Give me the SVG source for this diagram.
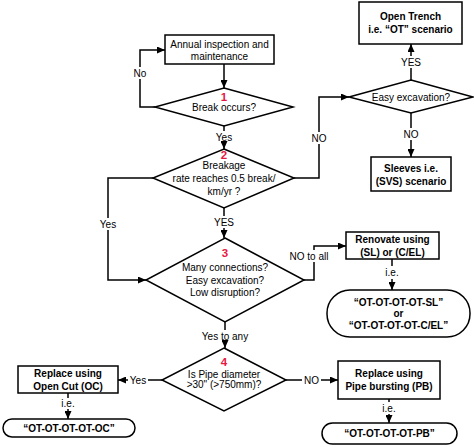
<svg xmlns="http://www.w3.org/2000/svg" width="474" height="447" viewBox="0 0 474 447">
<defs>
<marker id="arr" markerUnits="userSpaceOnUse" markerWidth="8" markerHeight="7" refX="8" refY="3.5" orient="auto">
<path d="M0,0 L8,3.5 L0,7 z" fill="#000"/>
</marker>
<style>
text{font-family:"Liberation Sans",Arial,sans-serif;font-size:10px;fill:#000;text-anchor:middle}
.b{font-weight:bold}
.n{font-weight:bold;font-size:11.5px;fill:#e8173f}
.shape{fill:#fff;stroke:#000;stroke-width:1.5}
.c path{fill:none;stroke:#000;stroke-width:1.5}
</style>
</defs>
<rect width="474" height="447" fill="#fff"/>
<g class="c" id="connectors">
<path d="M224,64 V88" marker-end="url(#arr)"/>
<path d="M155,107 H140 V79"/>
<path d="M140,67 V50 H165" marker-end="url(#arr)"/>
<path d="M224,126 V131"/>
<path d="M224,143 V149" marker-end="url(#arr)"/>
<path d="M294,178 H319 V144"/>
<path d="M319,132 V97 H349" marker-end="url(#arr)"/>
<path d="M411,80 V68"/>
<path d="M411,56 V44" marker-end="url(#arr)"/>
<path d="M411,113 V128"/>
<path d="M411,140 V157" marker-end="url(#arr)"/>
<path d="M153,178 H108 V218"/>
<path d="M108,230 V280 H146" marker-end="url(#arr)"/>
<path d="M224,208 V216"/>
<path d="M224,228 V238" marker-end="url(#arr)"/>
<path d="M304,280 H314 V262"/>
<path d="M314,250 V246 H346" marker-end="url(#arr)"/>
<path d="M392,259 V266"/>
<path d="M392,279 V290" marker-end="url(#arr)"/>
<path d="M225,322 V330"/>
<path d="M225,342 V348" marker-end="url(#arr)"/>
<path d="M162,380 H148"/>
<path d="M128,380 H118" marker-end="url(#arr)"/>
<path d="M286,380 H302"/>
<path d="M321,380 H338" marker-end="url(#arr)"/>
<path d="M68,393 V398"/>
<path d="M68,409 V419" marker-end="url(#arr)"/>
<path d="M389,399 V402"/>
<path d="M389,414 V423" marker-end="url(#arr)"/>
</g>
<g id="labels">
<text x="140" y="76.5">No</text>
<text x="224" y="140.5">Yes</text>
<text x="319" y="141.5">NO</text>
<text x="411" y="65.5">YES</text>
<text x="411" y="137.5">NO</text>
<text x="108" y="227.5">Yes</text>
<text x="224" y="225.5">YES</text>
<text x="309" y="259.5">NO to all</text>
<text x="392" y="275.5">i.e.</text>
<text x="225" y="339.5">Yes to any</text>
<text x="138" y="383.5">Yes</text>
<text x="311.5" y="383.5">NO</text>
<text x="68" y="406.5">i.e.</text>
<text x="389" y="411.5">i.e.</text>
</g>
<g id="annual">
<rect class="shape" x="165" y="35" width="109" height="29"/>
<text x="219.5" y="48">Annual inspection and</text>
<text x="219.5" y="59.5">maintenance</text>
</g>
<g id="break">
<polygon class="shape" points="224,88 293,107 224,126 155,107"/>
<text class="n" x="224" y="101">1</text>
<text x="224" y="111">Break occurs?</text>
</g>
<g id="rate">
<polygon class="shape" points="224,149 294,178 224,208 153,178"/>
<text class="n" x="224" y="159">2</text>
<text x="224" y="168.5">Breakage</text>
<text x="224" y="181.5">rate reaches 0.5 break/</text>
<text x="224" y="195">km/yr ?</text>
</g>
<g id="easy">
<polygon class="shape" points="411,80 473,97 411,113 349,97"/>
<text x="411" y="100.5">Easy excavation?</text>
</g>
<g id="opentrench">
<rect class="shape" x="359" y="2" width="103" height="42"/>
<text class="b" x="410.5" y="19.5">Open Trench</text>
<text class="b" x="410.5" y="32.5">i.e. “OT” scenario</text>
</g>
<g id="sleeves">
<rect class="shape" x="371" y="157" width="80" height="34"/>
<text class="b" x="411" y="171.5">Sleeves i.e.</text>
<text class="b" x="411" y="184.5">(SVS) scenario</text>
</g>
<g id="many">
<polygon class="shape" points="225,238 304,280 225,322 146,280"/>
<text class="n" x="225" y="257">3</text>
<text x="225" y="271">Many connections?</text>
<text x="225" y="283.5">Easy excavation?</text>
<text x="225" y="296">Low disruption?</text>
</g>
<g id="renovate">
<rect class="shape" x="346" y="232" width="93" height="27"/>
<text class="b" x="392.5" y="242.5">Renovate using</text>
<text class="b" x="392.5" y="255.5">(SL) or (C/EL)</text>
</g>
<g id="sl">
<rect class="shape" x="327" y="290" width="143" height="47" rx="23" ry="23"/>
<text class="b" x="398.5" y="305.5">“OT-OT-OT-OT-SL”</text>
<text class="b" x="398.5" y="317">or</text>
<text class="b" x="398.5" y="328.5">“OT-OT-OT-OT-C/EL”</text>
</g>
<g id="diameter">
<polygon class="shape" points="224,348 286,380 224,411 162,380"/>
<text class="n" x="224" y="366">4</text>
<text x="224" y="377.5">Is Pipe diameter</text>
<text x="224" y="388">&gt;30" (&gt;750mm)?</text>
</g>
<g id="opencut">
<rect class="shape" x="18" y="366" width="100" height="27"/>
<text class="b" x="68" y="376.5">Replace using</text>
<text class="b" x="68" y="389.5">Open Cut (OC)</text>
</g>
<g id="oc">
<rect class="shape" x="3" y="419" width="132" height="18" rx="9" ry="9"/>
<text class="b" x="69" y="431.5">“OT-OT-OT-OT-OC”</text>
</g>
<g id="pipebursting">
<rect class="shape" x="338" y="361" width="102" height="38"/>
<text class="b" x="389" y="377">Replace using</text>
<text class="b" x="389" y="389.5">Pipe bursting (PB)</text>
</g>
<g id="pb">
<rect class="shape" x="322" y="423" width="135" height="21" rx="10.5" ry="10.5"/>
<text class="b" x="389.5" y="437">“OT-OT-OT-OT-PB”</text>
</g>
</svg>
